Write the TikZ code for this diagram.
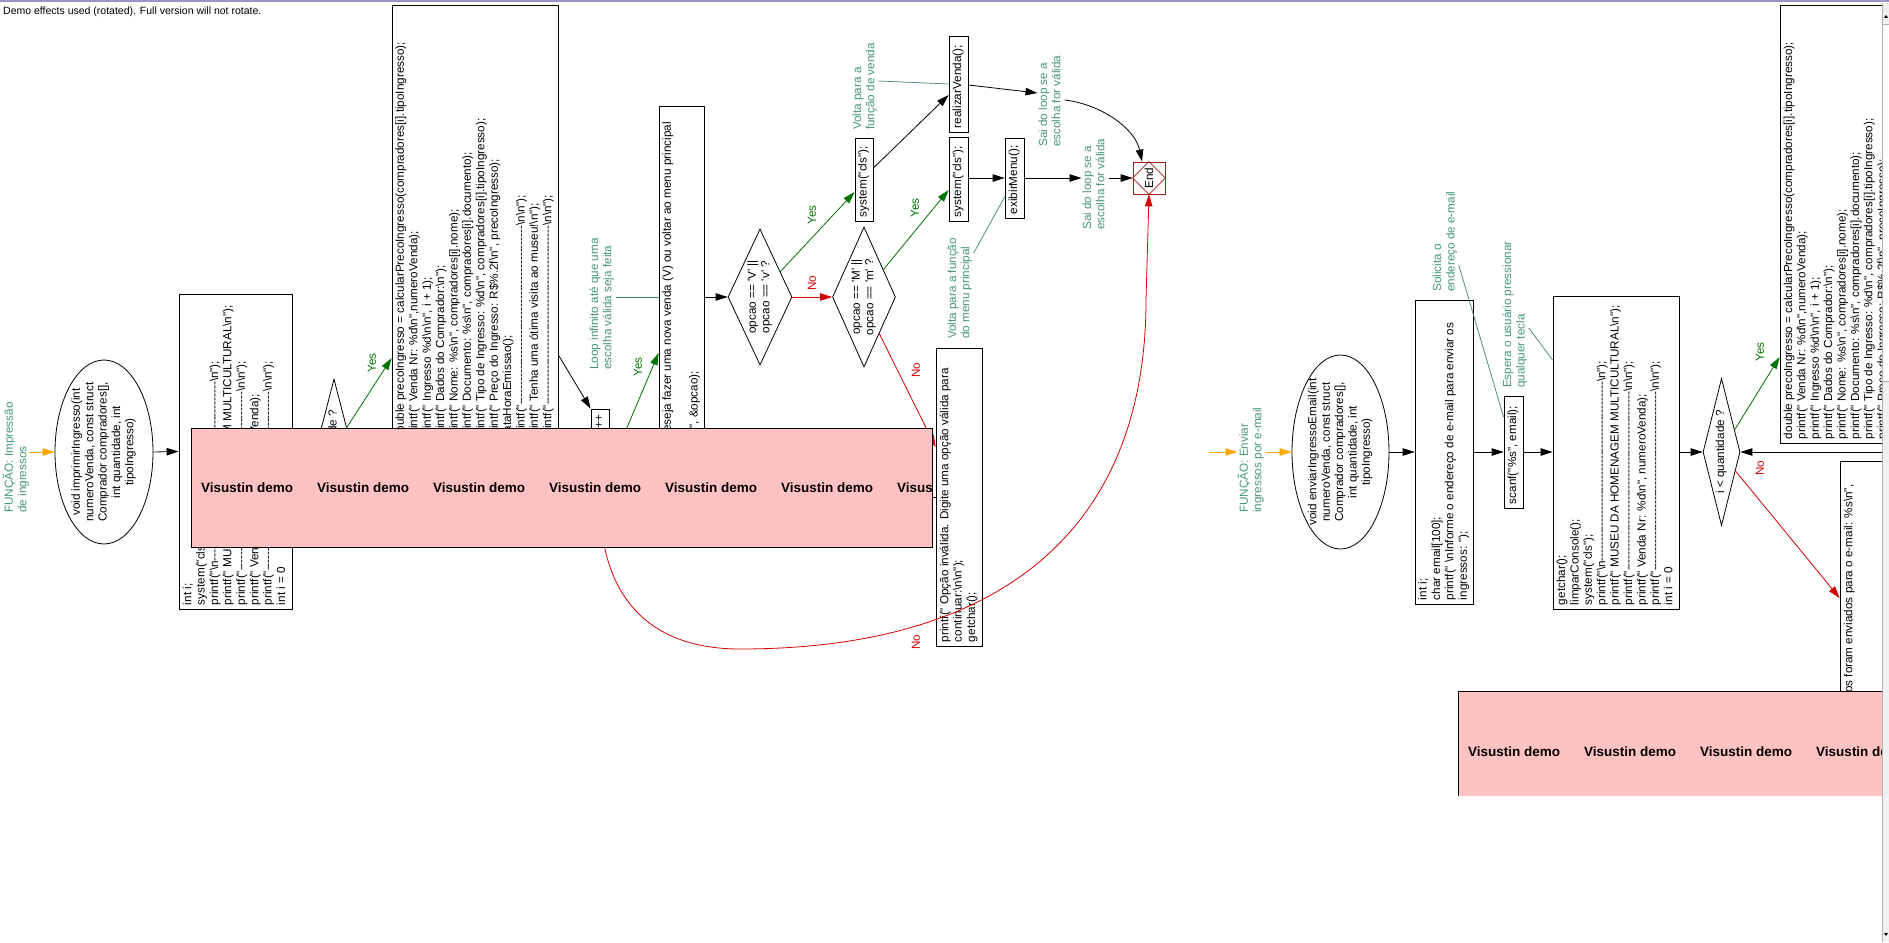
\documentclass[tikz,border=0pt]{standalone}
\usepackage{fontspec}
\setmainfont{Liberation Sans}[Ligatures=TeXOff]
\usepackage{graphicx}
\usetikzlibrary{shapes.geometric,arrows.meta,calc}
\definecolor{cmt}{RGB}{70,150,120}
\definecolor{cmtline}{RGB}{60,135,105}
\definecolor{yesc}{RGB}{0,115,0}
\definecolor{noc}{RGB}{215,0,0}
\definecolor{pinkc}{RGB}{255,194,194}
\definecolor{orng}{RGB}{255,165,0}
\definecolor{endc}{RGB}{165,30,30}
\definecolor{topc}{RGB}{150,150,200}
\newcommand{\bs}{\textbackslash}
\newcommand{\cf}{\fontsize{11.7pt}{13.4pt}\selectfont}
\newcommand{\bt}[2]{\rotatebox{90}{\makebox[#1][l]{\begin{tabular}{@{}l@{}}#2\end{tabular}}}}
\newcommand{\ct}[1]{\rotatebox{90}{\begin{tabular}{@{}l@{}}#1\end{tabular}}}
\newcommand{\cc}[1]{\rotatebox{90}{\begin{tabular}{@{}c@{}}#1\end{tabular}}}
\newcommand{\dsh}{----------------------------------------------}
\newcommand{\preco}{double precoIngresso = calcularPrecoIngresso(compradores[i].tipoIngresso);\\
printf(" Venda Nr: \%d\bs n",numeroVenda);\\
printf(" Ingresso \%d\bs n\bs n", i + 1);\\
printf(" Dados do Comprador:\bs n");\\
printf(" Nome: \%s\bs n", compradores[i].nome);\\
printf(" Documento: \%s\bs n", compradores[i].documento);\\
printf(" Tipo de Ingresso: \%d\bs n", compradores[i].tipoIngresso);\\
printf(" Preço do Ingresso: R\$\%.2f\bs n", precoIngresso);\\
dataHoraEmissao();\\
printf("\dsh\bs n\bs n");\\
printf(" Tenha uma ótima visita ao museu!\bs n");\\
printf("\dsh\bs n\bs n");}
\tikzset{
 box/.style={draw, line width=0.8pt, fill=white, inner sep=0pt, font=\cf},
 cmtn/.style={inner sep=0pt, text=cmt, font=\cf, anchor=south west},
 dia/.style={draw, diamond, line width=0.8pt, fill=white, inner sep=0pt, font=\cf},
 ell/.style={draw, ellipse, line width=0.8pt, fill=white, inner sep=0pt},
 arr/.style={-{Triangle[length=12pt,width=7.5pt]}, line width=0.8pt},
 yesarr/.style={arr, color=yesc},
 noarr/.style={arr, color=noc},
 oarr/.style={arr, color=orng},
 cline/.style={draw=cmtline, line width=0.7pt},
 yeslbl/.style={text=yesc, font=\cf, inner sep=0pt},
 nolbl/.style={text=noc, font=\cf, inner sep=0pt},
 demo/.style={font=\fontsize{13.5pt}{15pt}\selectfont\bfseries, anchor=west, inner sep=0pt},
}
\begin{document}
\begin{tikzpicture}[x=1pt,y=-1pt]
\useasboundingbox (0,0) rectangle (1889,942);
\fill[white] (0,0) rectangle (1889,942);
\begin{scope}
\clip (0,0) rectangle (1882,942);
\node[anchor=west, inner sep=0pt, font=\fontsize{10.5pt}{12pt}\selectfont] (hdr) at (3,12) {Demo effects used (rotated). Full version will not rotate.};

% ---------- left function ----------
\node[cmtn] (c1) at (2.5,513) {\ct{FUNÇÃO: Impressão\\de ingressos}};
\node[ell, minimum width=98pt, minimum height=184pt] (e1) at (104,452) {};
\node[font=\cf, inner sep=0pt] (e1t) at (e1.center) {\cc{void imprimirIngresso(int\\numeroVenda, const struct\\Comprador compradores[],\\int quantidade, int\\tipoIngresso)}};
\node[box, minimum width=113pt, minimum height=315pt] (b1) at (235.5,451.5) {\bt{307pt}{int i;\\system("cls");\\printf("\bs n\dsh\bs n");\\printf(" MUSEU DA HOMENAGEM MULTICULTURAL\bs n");\\printf("\dsh\bs n\bs n");\\printf(" Venda Nr: \%d\bs n", numeroVenda);\\printf("\dsh\bs n\bs n");\\int i = 0}};
\node[dia, shape aspect=0.26, minimum width=38pt, minimum height=146pt] (dL) at (334,452) {\cc{i < quantidade ?}};
\node[box, minimum width=166pt, minimum height=438pt] (b2) at (475,224) {\bt{430pt}{\preco}};
\node[box, minimum width=18pt, minimum height=26pt] (ipp) at (600,422) {\bt{18pt}{i++}};
\node[cmtn] (c2) at (588.5,370) {\ct{Loop infinito até que uma\\escolha válida seja feita}};
\node[box, minimum width=45pt, minimum height=382pt] (b3) at (681.5,297) {\bt{374pt}{printf("\bs nDeseja fazer uma nova venda (V) ou voltar ao menu principal\\\mbox{}\\scanf(" \%c", \&opcao);}};
\node[dia, shape aspect=0.47, minimum width=64pt, minimum height=136pt] (d3) at (760,297) {\cc{opcao == 'V' ||\\opcao == 'v' ?}};
\node[dia, shape aspect=0.45, minimum width=63pt, minimum height=140pt] (d4) at (864,297) {\cc{opcao == 'M' ||\\opcao == 'm' ?}};
\node[box, minimum width=18pt, minimum height=83pt] (sysA) at (864,179.5) {\bt{75pt}{system("cls");}};
\node[box, minimum width=19pt, minimum height=96pt] (rv) at (958.5,84) {\bt{88pt}{realizarVenda();}};
\node[box, minimum width=19pt, minimum height=84pt] (sysB) at (958.5,179) {\bt{76pt}{system("cls");}};
\node[box, minimum width=19pt, minimum height=80pt] (em) at (1014.5,178) {\bt{72pt}{exibirMenu();}};
\node[cmtn] (c3) at (851.5,130) {\ct{Volta para a\\função de venda}};
\node[cmtn] (c4) at (946.5,339) {\ct{Volta para a função\\do menu principal}};
\node[cmtn] (c5) at (1037.5,147) {\ct{Sai do loop se a\\escolha for válida}};
\node[cmtn] (c6) at (1081.5,230) {\ct{Sai do loop se a\\escolha for válida}};
\node[draw=endc, line width=0.8pt, fill=white, minimum size=32pt, inner sep=0pt, font=\cf] (endn) at (1149,178) {\rotatebox{90}{End}};
\draw[endc, line width=0.8pt] (endn.north) -- (endn.east) -- (endn.south) -- (endn.west) -- cycle;
\node[box, minimum width=46pt, minimum height=298pt] (pr) at (959,497) {\bt{290pt}{printf(" Opção inválida. Digite uma opção válida para\\continuar:\bs n\bs n");\\getchar();}};

% connectors, left function
\coordinate (o1s) at (29,452);
\draw[oarr] (o1s) -- (e1.west);
\draw[arr] (e1.east) -- (b1.west);
\draw[arr] (b1.east) -- (dL.west);
\draw[yesarr] ($(dL.center)+(12.5,-24)$) -- (b2.west |- 0,358);
\node[yeslbl] (yL) at (372,363) {\rotatebox{90}{Yes}};
\draw[arr] (b2.east |- 0,355) -- (ipp.north west);
\coordinate (wy) at (609,470);
\draw[yesarr] (wy) -- (b3.west |- 0,353);
\node[yeslbl] (yW) at (638,367) {\rotatebox{90}{Yes}};
\draw[cline] (c2.east |- 0,297) -- (b3.west |- 0,297);
\draw[arr] (b3.east |- 0,297) -- (d3.west);
\draw[noarr] (d3.east) -- (d4.west);
\node[nolbl] (n3) at (812,283) {\rotatebox{90}{No}};
\draw[yesarr] ($(d3.center)+(20,-25)$) -- (sysA.west |- 0,192);
\node[yeslbl] (y3) at (812,215) {\rotatebox{90}{Yes}};
\draw[yesarr] ($(d4.center)+(19,-27)$) -- (sysB.west |- 0,190);
\node[yeslbl] (y4) at (915,208) {\rotatebox{90}{Yes}};
\draw[noarr] ($(d4.center)+(15,36)$) -- (pr.west |- 0,447);
\node[nolbl] (n4) at (916,370) {\rotatebox{90}{No}};
\draw[arr] (sysA.east |- 0,168) -- (rv.west |- 0,95);
\draw[cline] (c3.east |- 0,81) -- (rv.west |- 0,84);
\draw[arr] (sysB.east |- 0,178) -- (em.west |- 0,178);
\draw[cline] (c4.east |- 0,253) -- (em.west |- 0,197);
\draw[arr] (rv.east |- 0,85) -- (c5.west |- 0,93);
\draw[arr] (c5.east |- 0,100) .. controls (1100,104) and (1135,128) .. ($(endn.north)+(-7,0)$);
\draw[arr] (em.east |- 0,178) -- (c6.west |- 0,178);
\draw[arr] (c6.east |- 0,178) -- (endn.west);
\coordinate (prb) at (880,497);
\draw[line width=0.8pt] (pr.west |- 0,497) -- (prb);
\coordinate (wx) at (600,500);
\draw[noarr] (wx) .. controls (600,597) and (649,649) .. (740,649) .. controls (1004,649) and (1146,527) .. (1146,300) -- (endn.south);
\node[nolbl] (nW) at (916,642) {\rotatebox{90}{No}};

% ---------- right function ----------
\node[cmtn] (c7) at (1237.5,513) {\ct{FUNÇÃO: Enviar\\ingressos por e-mail}};
\node[ell, minimum width=97pt, minimum height=194pt] (e2) at (1340.5,452) {};
\node[font=\cf, inner sep=0pt] (e2t) at (e2.center) {\cc{void enviarIngressoEmail(int\\numeroVenda, const struct\\Comprador compradores[],\\int quantidade, int\\tipoIngresso)}};
\node[box, minimum width=58pt, minimum height=304pt] (be1) at (1444,452) {\bt{296pt}{int i;\\char email[100];\\printf(" \bs nInforme o endereço de e-mail para enviar os\\ingressos: ");}};
\node[box, minimum width=19pt, minimum height=112pt] (sc) at (1513.5,452) {\bt{104pt}{scanf("\%s", email);}};
\node[cmtn] (c8) at (1431.5,292) {\ct{Solicita o\\endereço de e-mail}};
\node[cmtn] (c9) at (1501.5,388) {\ct{Espera o usuário pressionar\\qualquer tecla}};
\node[box, minimum width=126pt, minimum height=313pt] (gc) at (1616,452.5) {\bt{305pt}{getchar();\\limparConsole();\\system("cls");\\printf("\bs n\dsh\bs n");\\printf(" MUSEU DA HOMENAGEM MULTICULTURAL\bs n");\\printf("\dsh\bs n\bs n");\\printf(" Venda Nr: \%d\bs n", numeroVenda);\\printf("\dsh\bs n\bs n");\\int i = 0}};
\node[dia, shape aspect=0.25, minimum width=37pt, minimum height=147pt] (dR) at (1721.5,452) {\cc{i < quantidade ?}};
\node[box, minimum width=166pt, minimum height=438pt] (bR) at (1863,224) {\bt{430pt}{\preco}};
\node[box, minimum width=46pt, minimum height=318pt] (bm) at (1863,620) {\bt{310pt}{printf("\bs nIngressos foram enviados para o e-mail: \%s\bs n",\\\mbox{}\\\mbox{}}};

\coordinate (o2s) at (1209,452);
\draw[oarr] (o2s) -- (c7.west |- 0,452);
\draw[oarr] (c7.east |- 0,452) -- (e2.west);
\draw[arr] (e2.east) -- (be1.west);
\draw[arr] (be1.east) -- (sc.west);
\draw[cline] (c8.east |- 0,265) -- (sc.west |- 0,417);
\draw[arr] (sc.east) -- (gc.west |- 0,452);
\draw[cline] (c9.east |- 0,328) -- (gc.west |- 0,360);
\draw[arr] (gc.east |- 0,452) -- (dR.west);
\draw[yesarr] ($(dR.center)+(13,-22)$) -- (bR.west |- 0,357);
\node[yeslbl] (yR) at (1760,352) {\rotatebox{90}{Yes}};
\draw[noarr] ($(dR.center)+(14,19)$) -- (bm.west |- 0,598);
\node[nolbl] (nR) at (1760,468) {\rotatebox{90}{No}};
\coordinate (lpR) at (1895,452);
\draw[arr] (lpR) -- (dR.east);

% ---------- demo overlays ----------
\fill[pinkc] (191,428) rectangle (932,547);
\draw[line width=0.8pt] (191,428) rectangle (932,547);
\begin{scope}
\clip (191,428) rectangle (932,547);
\foreach \x in {201,317,433,549,665,781,897} \node[demo] (vd\x) at (\x,488) {Visustin demo};
\end{scope}
\fill[pinkc] (1458,691) rectangle (1890,796);
\draw[line width=0.8pt] (1890,691) -- (1458,691) -- (1458,796);
\begin{scope}
\clip (1458,691) rectangle (1890,796);
\foreach \x in {1468,1584,1700,1816} \node[demo] (vd\x) at (\x,752) {Visustin demo};
\end{scope}
\end{scope}

% ---------- window chrome ----------
\fill[gray!12] (1882,3) rectangle (1889,942);
\fill[white] (1883,24) rectangle (1889,381);
\draw[gray!60, line width=0.6pt] (1882,3) -- (1882,942);
\draw[gray!60, line width=0.5pt] (1883,24) -- (1889,24) (1883,381) -- (1889,381);
\fill[black] (1884,18) -- (1888,18) -- (1886,15) -- cycle;
\fill[black] (1884,933) -- (1888,933) -- (1886,936) -- cycle;
\draw[topc, line width=2pt] (0,1) -- (1889,1);
\end{tikzpicture}
\end{document}
